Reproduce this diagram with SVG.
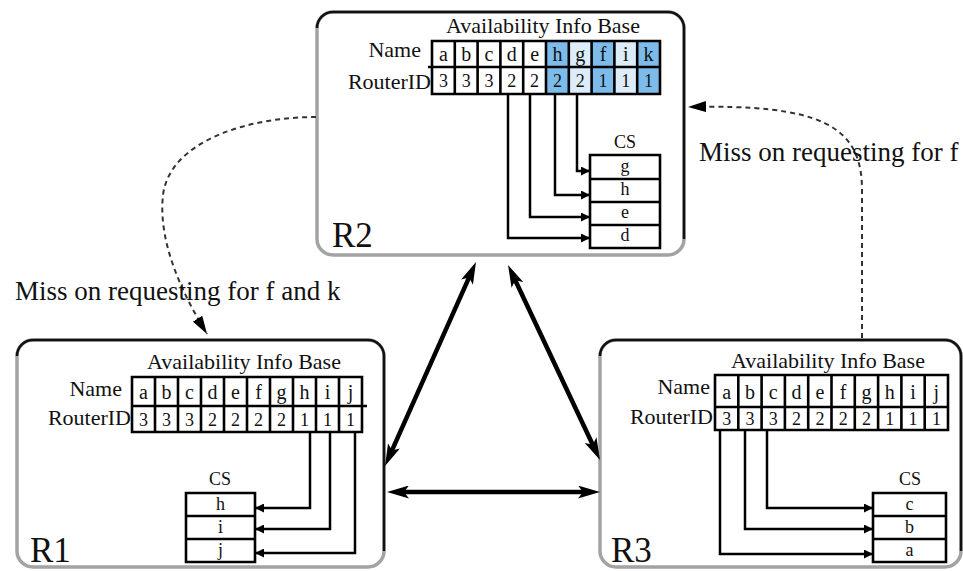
<svg xmlns="http://www.w3.org/2000/svg" width="963" height="571" viewBox="0 0 963 571" font-family="'Liberation Serif', 'Times New Roman', 'DejaVu Serif', serif">
<style>
.bg{fill:#fff}
.boxg{fill:#fff;stroke:#a3a3a3;stroke-width:3.5}
.boxd{fill:none;stroke:#111;stroke-width:2.5}
.grid{fill:none;stroke:#000;stroke-width:2.6}
.t{font-family:'Liberation Serif','Times New Roman','DejaVu Serif',serif;fill:#111}
.cell{font-size:20px;text-anchor:middle}
.num{font-size:18px;text-anchor:middle}
.lbl{font-size:22px}
.cs{font-size:18px;text-anchor:middle}
.end{text-anchor:end}
.mid{text-anchor:middle}
.big{font-size:35px}
.note{font-size:27px}
.link{fill:none;stroke:#000;stroke-width:2.5;marker-end:url(#sm)}
.thick{fill:none;stroke:#000;stroke-width:4.5;marker-start:url(#bg);marker-end:url(#bg)}
.dash{fill:none;stroke:#333;stroke-width:2;stroke-dasharray:5 4;marker-end:url(#dh)}
.hi{fill:#7dbbea}
.lo{fill:#dcecf9}
</style>
<defs>
<marker id="sm" markerUnits="userSpaceOnUse" markerWidth="9" markerHeight="9" viewBox="0 0 9 9" refX="9" refY="4.5" orient="auto"><path d="M0,0 L9,4.5 L0,9 z" fill="#000"/></marker>
<marker id="bg" markerUnits="userSpaceOnUse" markerWidth="22" markerHeight="13" viewBox="0 0 22 13" refX="12" refY="6.5" orient="auto-start-reverse"><path d="M0,0 L22,6.5 L0,13 L5,6.5 z" fill="#000"/></marker>
<marker id="dh" markerUnits="userSpaceOnUse" markerWidth="18" markerHeight="11" viewBox="0 0 18 11" refX="18" refY="5.5" orient="auto"><path d="M0,0 L18,5.5 L0,11 z" fill="#000"/></marker>
</defs>
<rect class="bg" x="0" y="0" width="963" height="571"/>

<g id="R2">
<rect class="boxg" x="317" y="12" width="367" height="243" rx="16"/>
<path class="boxd" d="M317,28 A16,16 0 0 1 333,12 H668 A16,16 0 0 1 684,28 V239"/>
<text class="t lbl mid" x="543" y="33">Availability Info Base</text>
<text class="t lbl end" x="421" y="57">Name</text>
<text class="t lbl end" x="431" y="89">RouterID</text>
<rect class="hi" x="546" y="41" width="22.8" height="53"/>
<rect class="lo" x="568.8" y="41" width="22.8" height="53"/>
<rect class="hi" x="591.6" y="41" width="22.8" height="53"/>
<rect class="lo" x="614.4" y="41" width="22.8" height="53"/>
<rect class="hi" x="637.2" y="41" width="22.8" height="53"/>
<path class="grid" d="M432,41 H660 V94 H432 Z M428,67 H660 M454.8,41 V94 M477.6,41 V94 M500.4,41 V94 M523.2,41 V94 M546,41 V94 M568.8,41 V94 M591.6,41 V94 M614.4,41 V94 M637.2,41 V94"/>
<g class="t cell">
<text x="443.4" y="61">a</text><text x="466.2" y="61">b</text><text x="489" y="61">c</text><text x="511.8" y="61">d</text><text x="534.6" y="61">e</text><text x="557.4" y="61">h</text><text x="580.2" y="61">g</text><text x="603" y="61">f</text><text x="625.8" y="61">i</text><text x="648.6" y="61">k</text>
</g>
<g class="t num">
<text x="443.4" y="87">3</text><text x="466.2" y="87">3</text><text x="489" y="87">3</text><text x="511.8" y="87">2</text><text x="534.6" y="87">2</text><text x="557.4" y="87">2</text><text x="580.2" y="87">2</text><text x="603" y="87">1</text><text x="625.8" y="87">1</text><text x="648.6" y="87">1</text>
</g>
<text class="t cs" x="625" y="148">CS</text>
<path class="grid" d="M590,155 H660 V248 H590 Z M590,179 H660 M590,202 H660 M590,225 H660"/>
<g class="t cs">
<text x="625" y="172">g</text><text x="625" y="195">h</text><text x="625" y="218">e</text><text x="625" y="241">d</text>
</g>
<path class="link" d="M577,94 V171 H590"/>
<path class="link" d="M555,94 V195 H590"/>
<path class="link" d="M530,94 V217 H590"/>
<path class="link" d="M508,94 V238 H590"/>
<text class="t big" x="332" y="247">R2</text>
</g>

<g id="R1">
<rect class="boxg" x="17" y="340" width="367" height="227" rx="16"/>
<path class="boxd" d="M17,356 A16,16 0 0 1 33,340 H368 A16,16 0 0 1 384,356 V551"/>
<text class="t lbl mid" x="244" y="369">Availability Info Base</text>
<text class="t lbl end" x="122" y="396">Name</text>
<text class="t lbl end" x="131" y="425">RouterID</text>
<path class="grid" d="M132,377 H362 V432 H132 Z M132,406 H367 M155,377 V432 M178,377 V432 M201,377 V432 M224,377 V432 M247,377 V432 M270,377 V432 M293,377 V432 M316,377 V432 M339,377 V432"/>
<g class="t cell">
<text x="143.5" y="399">a</text><text x="166.5" y="399">b</text><text x="189.5" y="399">c</text><text x="212.5" y="399">d</text><text x="235.5" y="399">e</text><text x="258.5" y="399">f</text><text x="281.5" y="399">g</text><text x="304.5" y="399">h</text><text x="327.5" y="399">i</text><text x="350.5" y="399">j</text>
</g>
<g class="t num">
<text x="143.5" y="426">3</text><text x="166.5" y="426">3</text><text x="189.5" y="426">3</text><text x="212.5" y="426">2</text><text x="235.5" y="426">2</text><text x="258.5" y="426">2</text><text x="281.5" y="426">2</text><text x="304.5" y="426">1</text><text x="327.5" y="426">1</text><text x="350.5" y="426">1</text>
</g>
<text class="t cs" x="220" y="485">CS</text>
<path class="grid" d="M186,493 H255 V562 H186 Z M186,516 H255 M186,539 H255"/>
<g class="t cs">
<text x="220.5" y="510">h</text><text x="220.5" y="533">i</text><text x="220.5" y="556">j</text>
</g>
<path class="link" d="M310,432 V508 H255"/>
<path class="link" d="M330,432 V529 H255"/>
<path class="link" d="M355,432 V553 H255"/>
<text class="t big" x="30" y="562">R1</text>
</g>

<g id="R3">
<rect class="boxg" x="600" y="340" width="361" height="227" rx="16"/>
<path class="boxd" d="M600,356 A16,16 0 0 1 616,340 H945 A16,16 0 0 1 961,356 V551"/>
<text class="t lbl mid" x="828" y="368">Availability Info Base</text>
<text class="t lbl end" x="710" y="394">Name</text>
<text class="t lbl end" x="713" y="424">RouterID</text>
<path class="grid" d="M715,375 H948 V430 H715 Z M715,407 H948 M738.3,375 V430 M761.6,375 V430 M784.9,375 V430 M808.2,375 V430 M831.5,375 V430 M854.8,375 V430 M878.1,375 V430 M901.4,375 V430 M924.7,375 V430"/>
<g class="t cell">
<text x="726.7" y="399">a</text><text x="750" y="399">b</text><text x="773.3" y="399">c</text><text x="796.6" y="399">d</text><text x="819.9" y="399">e</text><text x="843.2" y="399">f</text><text x="866.5" y="399">g</text><text x="889.8" y="399">h</text><text x="913.1" y="399">i</text><text x="936.4" y="399">j</text>
</g>
<g class="t num">
<text x="726.7" y="425">3</text><text x="750" y="425">3</text><text x="773.3" y="425">3</text><text x="796.6" y="425">2</text><text x="819.9" y="425">2</text><text x="843.2" y="425">2</text><text x="866.5" y="425">2</text><text x="889.8" y="425">1</text><text x="913.1" y="425">1</text><text x="936.4" y="425">1</text>
</g>
<text class="t cs" x="910" y="485">CS</text>
<path class="grid" d="M873,493 H946 V562 H873 Z M873,516 H946 M873,539 H946"/>
<g class="t cs">
<text x="909.5" y="510">c</text><text x="909.5" y="533">b</text><text x="909.5" y="556">a</text>
</g>
<path class="link" d="M767,430 V508 H873"/>
<path class="link" d="M745,430 V529 H873"/>
<path class="link" d="M720,430 V554 H873"/>
<text class="t big" x="611" y="562">R3</text>
</g>

<g id="connectors">
<path class="thick" d="M389.1,456.9 L471.9,271.1"/>
<path class="thick" d="M512.3,274 L595.7,451"/>
<path class="thick" d="M397,492 L590,492"/>
<path class="dash" d="M316,117 C250,117 170,140 163,195 C158,240 180,290 207,334"/>
<path class="dash" d="M862,338 L862,190 C862,125 820,104 688,107"/>
<text class="t note" x="15" y="300">Miss on requesting for f and k</text>
<text class="t note" x="699" y="161">Miss on requesting for f</text>
</g>
</svg>
